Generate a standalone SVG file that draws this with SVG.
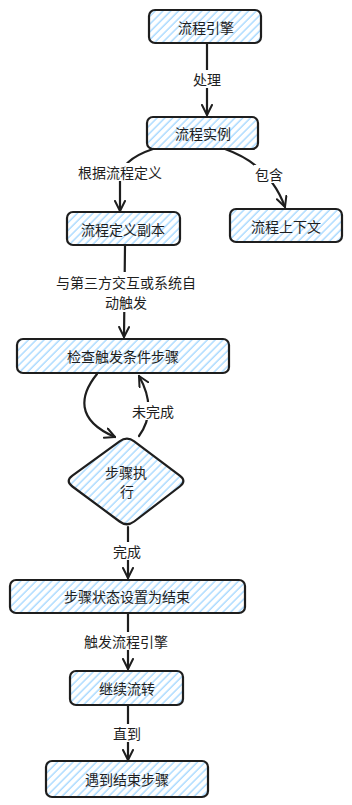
<svg xmlns="http://www.w3.org/2000/svg" width="352" height="805" viewBox="0 0 352 805">
<defs>
<pattern id="hatch" patternUnits="userSpaceOnUse" width="8" height="5.5" patternTransform="rotate(-45)">
<line x1="0" y1="2" x2="8" y2="2" stroke="#a5d8ff" stroke-width="1.4"/>
</pattern>
<marker id="arr" viewBox="0 0 12 12" markerWidth="12" markerHeight="12" refX="11" refY="6" orient="auto" markerUnits="userSpaceOnUse">
<path d="M1 1 L11 6 L1 11" fill="none" stroke="#1e1e1e" stroke-width="2" stroke-linecap="round" stroke-linejoin="round"/>
</marker>
</defs>
<style>
.box{fill:url(#hatch);stroke:#1e1e1e;stroke-width:2.2}
.t{font-family:"Noto Sans CJK SC","Noto Sans",sans-serif;font-size:14px;fill:#1e1e1e;text-anchor:middle;dominant-baseline:central}
.e{fill:none;stroke:#1e1e1e;stroke-width:2.2;stroke-linecap:round;marker-end:url(#arr)}
.lb{fill:#ffffff}
</style>
<g id="connectors">
<path class="e" d="M207 43 L207 115"/>
<rect class="lb" x="190" y="70" width="34" height="18"/>
<text class="t" x="207" y="79">处理</text>
<path class="e" d="M153 149 Q120 160 120 180 L120 211"/>
<rect class="lb" x="78" y="163" width="86" height="18"/>
<text class="t" x="120" y="172">根据流程定义</text>
<path class="e" d="M225 149 Q270 165 285 207"/>
<rect class="lb" x="254" y="165" width="30" height="18"/>
<text class="t" x="269" y="174">包含</text>
<path class="e" d="M125 246 L124 337"/>
<rect class="lb" x="54" y="272" width="144" height="40"/>
<text class="t" x="126" y="282">与第三方交互或系统自</text>
<text class="t" x="126" y="302">动触发</text>
<path class="e" d="M97 374 C80 395 75 420 115 437"/>
<path class="e" d="M139 436 Q158 410 139 376"/>
<rect class="lb" x="131" y="402" width="44" height="18"/>
<text class="t" x="153" y="411">未完成</text>
<path class="e" d="M128 527 L128 578"/>
<rect class="lb" x="112" y="542" width="32" height="18"/>
<text class="t" x="127" y="551">完成</text>
<path class="e" d="M128 613 L128 669"/>
<rect class="lb" x="83" y="632" width="86" height="18"/>
<text class="t" x="126" y="641">触发流程引擎</text>
<path class="e" d="M128 705 L128 760"/>
<rect class="lb" x="112" y="724" width="32" height="18"/>
<text class="t" x="127" y="733">直到</text>
</g>
<g id="n1"><rect class="box" x="149" y="10" width="112" height="33" rx="6"/><text class="t" x="206" y="27">流程引擎</text></g>
<g id="n2"><rect class="box" x="147" y="117" width="111" height="32" rx="6"/><text class="t" x="203" y="133">流程实例</text></g>
<g id="n3"><rect class="box" x="67" y="212" width="113" height="33" rx="6"/><text class="t" x="123" y="229">流程定义副本</text></g>
<g id="n4"><rect class="box" x="230" y="209" width="112" height="33" rx="6"/><text class="t" x="286" y="226">流程上下文</text></g>
<g id="n5"><rect class="box" x="17" y="339" width="212" height="34" rx="6"/><text class="t" x="123" y="356">检查触发条件步骤</text></g>
<g id="n6"><path class="box" d="M119.6 441.4 Q127 436 134.2 441.4 L179.8 475.6 Q187 481 179.8 486.5 L134.2 521.5 Q127 527 119.6 521.5 L72.4 486.5 Q65 481 72.4 475.6 Z"/><text class="t" x="126" y="472">步骤执</text><text class="t" x="127" y="491">行</text></g>
<g id="n7"><rect class="box" x="10" y="580" width="235" height="33" rx="6"/><text class="t" x="127" y="596">步骤状态设置为结束</text></g>
<g id="n8"><rect class="box" x="70" y="671" width="113" height="34" rx="6"/><text class="t" x="127" y="688">继续流转</text></g>
<g id="n9"><rect class="box" x="46" y="761" width="162" height="36" rx="6"/><text class="t" x="127" y="779">遇到结束步骤</text></g>
</svg>
